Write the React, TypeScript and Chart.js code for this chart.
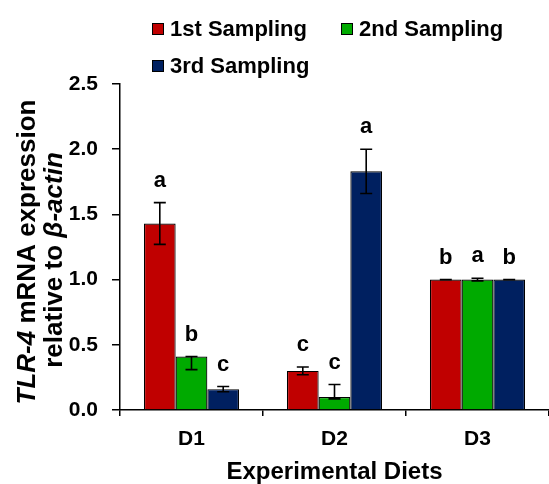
import React, { useEffect, useRef } from "react";
import { Chart, registerables } from "chart.js";

Chart.register(...registerables);

// Relative TLR-4 expression per diet and sampling
const categories = ["D1", "D2", "D3"];
const seriesNames = ["1st Sampling", "2nd Sampling", "3rd Sampling"];
const seriesColors = ["#C00000", "#00AA00", "#002060"];

const firstSampling = [1.43, 0.30, 1.0];
const secondSampling = [0.41, 0.10, 1.0];
const thirdSampling = [0.16, 1.83, 1.0];

// Error bar extents (upper / lower)
const firstErrPlus = [0.16, 0.03, 0];
const firstErrMinus = [0.16, 0.03, 0];
const secondErrPlus = [0, 0.095, 0.01];
const secondErrMinus = [0.1, 0.015, 0.01];
const thirdErrPlus = [0.02, 0.17, 0];
const thirdErrMinus = [0.02, 0.17, 0];

// Significance letters
const firstLetters = ["a", "c", "b"];
const secondLetters = ["b", "c", "a"];
const thirdLetters = ["c", "a", "b"];

const yTicks = [0, 0.5, 1.0, 1.5, 2.0, 2.5];

const FONT = "'Liberation Sans', Arial, sans-serif";

const values = [firstSampling, secondSampling, thirdSampling];
const errPlus = [firstErrPlus, secondErrPlus, thirdErrPlus];
const errMinus = [firstErrMinus, secondErrMinus, thirdErrMinus];
const letters = [firstLetters, secondLetters, thirdLetters];

const errorBarsPlugin = {
  id: "errorBars",
  afterDatasetsDraw(chart: any) {
    const ctx = chart.ctx;
    const y = chart.scales.y;
    ctx.save();
    ctx.strokeStyle = "#000";
    ctx.lineWidth = 1.6;
    values.forEach((vals, d) => {
      const meta = chart.getDatasetMeta(d);
      meta.data.forEach((bar: any, i: number) => {
        const v = vals[i];
        const hi = y.getPixelForValue(v + errPlus[d][i]);
        const lo = y.getPixelForValue(v - errMinus[d][i]);
        const x = bar.x;
        const cap = 6;
        ctx.beginPath();
        ctx.moveTo(x, hi);
        ctx.lineTo(x, lo);
        ctx.moveTo(x - cap, hi);
        ctx.lineTo(x + cap, hi);
        ctx.moveTo(x - cap, lo);
        ctx.lineTo(x + cap, lo);
        ctx.stroke();
      });
    });
    // letters above each bar
    ctx.fillStyle = "#000";
    ctx.font = `bold 22px ${FONT}`;
    ctx.textAlign = "center";
    ctx.textBaseline = "alphabetic";
    values.forEach((vals, d) => {
      const meta = chart.getDatasetMeta(d);
      meta.data.forEach((bar: any, i: number) => {
        const top = y.getPixelForValue(vals[i] + errPlus[d][i]);
        ctx.fillText(letters[d][i], bar.x, top - 16);
      });
    });
    ctx.restore();
  },
};

const legendPlugin = {
  id: "customLegend",
  afterDraw(chart: any) {
    const ctx = chart.ctx;
    const items = [
      { x: 152, y: 29 },
      { x: 341, y: 29 },
      { x: 152, y: 66 },
    ];
    ctx.save();
    ctx.font = `bold 22px ${FONT}`;
    ctx.textBaseline = "middle";
    ctx.textAlign = "left";
    items.forEach((it, k) => {
      ctx.fillStyle = seriesColors[k];
      ctx.fillRect(it.x, it.y - 6, 12, 12);
      ctx.strokeStyle = "#000";
      ctx.lineWidth = 1;
      ctx.strokeRect(it.x + 0.5, it.y - 5.5, 11, 11);
      ctx.fillStyle = "#000";
      ctx.fillText(seriesNames[k], it.x + 18, it.y + 1);
    });
    ctx.restore();
  },
};

const yTitlePlugin = {
  id: "yTitle",
  afterDraw(chart: any) {
    const ctx = chart.ctx;
    const lines = [
      {
        x: 35,
        cy: 252,
        parts: [
          { t: "TLR-4", it: true },
          { t: " mRNA expression", it: false },
        ],
      },
      {
        x: 61.5,
        cy: 260,
        parts: [
          { t: "relative to ", it: false },
          { t: "β-actin", it: true },
        ],
      },
    ];
    ctx.save();
    ctx.fillStyle = "#000";
    ctx.textBaseline = "alphabetic";
    ctx.textAlign = "left";
    lines.forEach((ln) => {
      const fonts = ln.parts.map((p) => `${p.it ? "italic " : ""}bold 26px ${FONT}`);
      let total = 0;
      const widths = ln.parts.map((p, k) => {
        ctx.font = fonts[k];
        const w = ctx.measureText(p.t).width;
        total += w;
        return w;
      });
      ctx.save();
      ctx.translate(ln.x, ln.cy);
      ctx.rotate(-Math.PI / 2);
      let cx = -total / 2;
      ln.parts.forEach((p, k) => {
        ctx.font = fonts[k];
        ctx.fillText(p.t, cx, 0);
        cx += widths[k];
      });
      ctx.restore();
    });
    ctx.restore();
  },
};

export default function App() {
  const ref = useRef<HTMLCanvasElement | null>(null);

  useEffect(() => {
    document.body.style.margin = "0";
    const canvas = ref.current;
    if (!canvas) return;
    const chart = new Chart(canvas, {
      type: "bar",
      data: {
        labels: categories,
        datasets: values.map((vals, d) => ({
          label: seriesNames[d],
          data: vals,
          backgroundColor: seriesColors[d],
          borderColor: "#000",
          borderWidth: 1.2,
          categoryPercentage: 0.665,
          barPercentage: 1,
        })),
      },
      options: {
        responsive: false,
        animation: false,
        devicePixelRatio: 1,
        layout: { padding: { top: 84, left: 0, right: 0, bottom: 0 } },
        plugins: {
          legend: { display: false },
          tooltip: { enabled: false },
        },
        scales: {
          x: {
            afterFit: (s: any) => {
              s.height = 74;
            },
            grid: {
              display: true,
              drawOnChartArea: false,
              drawTicks: true,
              tickLength: 6,
              color: "#000",
              lineWidth: 1.5,
            },
            border: { display: true, color: "#000", width: 1.5 },
            ticks: {
              color: "#000",
              padding: 11,
              font: { family: FONT, size: 21, weight: "bold" },
            },
            title: {
              display: true,
              text: "Experimental Diets",
              color: "#000",
              padding: { top: 0, bottom: 0 },
              font: { family: FONT, size: 24, weight: "bold", lineHeight: 1 },
            },
          },
          y: {
            min: 0,
            max: 2.5,
            afterFit: (s: any) => {
              s.width = 120;
            },
            afterBuildTicks: (s: any) => {
              s.ticks = yTicks.map((v) => ({ value: v }));
            },
            grid: {
              display: true,
              drawOnChartArea: false,
              drawTicks: true,
              tickLength: 8,
              color: "#000",
              lineWidth: 1.5,
            },
            border: { display: true, color: "#000", width: 1.5 },
            ticks: {
              color: "#000",
              padding: 14,
              callback: (v: any) => Number(v).toFixed(1),
              font: { family: FONT, size: 21, weight: "bold" },
            },
          },
        },
      },
      plugins: [errorBarsPlugin, legendPlugin, yTitlePlugin],
    });
    return () => chart.destroy();
  }, []);

  return (
    <div style={{ width: 549, height: 484, background: "#fff" }}>
      <canvas ref={ref} width={549} height={484} style={{ display: "block" }} />
    </div>
  );
}
